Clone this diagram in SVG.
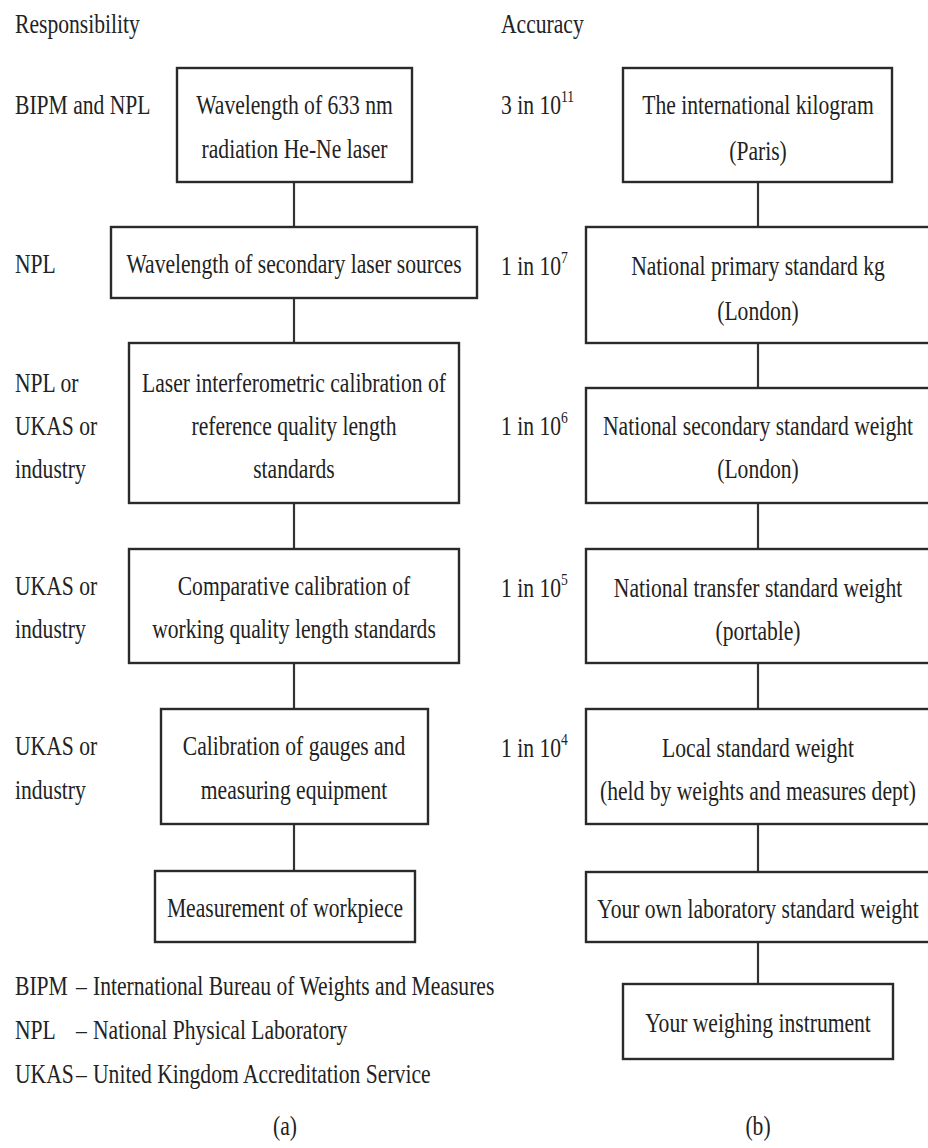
<svg xmlns="http://www.w3.org/2000/svg" width="928" height="1148" viewBox="0 0 928 1148">
  <style>
    .box { fill: #ffffff; stroke: #2a2a2a; stroke-width: 2.4; }
    .link { stroke: #333333; stroke-width: 2.2; fill: none; }
    text { font-family: "Liberation Serif", "Times New Roman", serif; font-size: 27px; fill: #222222; }
    .c { text-anchor: middle; }
    .sup { font-size: 17px; }
  </style>
  <rect width="928" height="1148" fill="#ffffff"/>

  <!-- connectors -->
  <g id="connectors">
    <line class="link" x1="294" y1="182" x2="294" y2="227"/>
    <line class="link" x1="294" y1="298" x2="294" y2="343"/>
    <line class="link" x1="294" y1="503" x2="294" y2="549"/>
    <line class="link" x1="294" y1="663" x2="294" y2="709"/>
    <line class="link" x1="294" y1="824" x2="294" y2="871"/>
    <line class="link" x1="758" y1="182" x2="758" y2="227"/>
    <line class="link" x1="758" y1="343" x2="758" y2="388"/>
    <line class="link" x1="758" y1="503" x2="758" y2="549"/>
    <line class="link" x1="758" y1="663" x2="758" y2="709"/>
    <line class="link" x1="758" y1="824" x2="758" y2="872"/>
    <line class="link" x1="758" y1="942" x2="758" y2="984"/>
  </g>

  <!-- (a) length chain -->
  <g id="heading-responsibility">
    <text transform="translate(15 33) scale(0.8 1)">Responsibility</text>
  </g>
  <g id="resp-1">
    <text transform="translate(15 114) scale(0.8 1)">BIPM and NPL</text>
  </g>
  <g id="resp-2">
    <text transform="translate(15 273) scale(0.8 1)">NPL</text>
  </g>
  <g id="resp-3">
    <text transform="translate(15 392) scale(0.8 1)">NPL or</text>
    <text transform="translate(15 435) scale(0.8 1)">UKAS or</text>
    <text transform="translate(15 478) scale(0.8 1)">industry</text>
  </g>
  <g id="resp-4">
    <text transform="translate(15 595) scale(0.8 1)">UKAS or</text>
    <text transform="translate(15 638) scale(0.8 1)">industry</text>
  </g>
  <g id="resp-5">
    <text transform="translate(15 755) scale(0.8 1)">UKAS or</text>
    <text transform="translate(15 799) scale(0.8 1)">industry</text>
  </g>

  <g id="len-laser">
    <rect class="box" x="177" y="68" width="235" height="114"/>
    <text class="c" transform="translate(294.5 114) scale(0.8 1)">Wavelength of 633 nm</text>
    <text class="c" transform="translate(294.5 158) scale(0.8 1)">radiation He-Ne laser</text>
  </g>
  <g id="len-secondary">
    <rect class="box" x="111" y="227" width="366" height="71"/>
    <text class="c" transform="translate(294 273) scale(0.8 1)">Wavelength of secondary laser sources</text>
  </g>
  <g id="len-interferometric">
    <rect class="box" x="129" y="343" width="330" height="160"/>
    <text class="c" transform="translate(294 392) scale(0.8 1)">Laser interferometric calibration of</text>
    <text class="c" transform="translate(294 435) scale(0.8 1)">reference quality length</text>
    <text class="c" transform="translate(294 478) scale(0.8 1)">standards</text>
  </g>
  <g id="len-comparative">
    <rect class="box" x="129" y="549" width="330" height="114"/>
    <text class="c" transform="translate(294 595) scale(0.8 1)">Comparative calibration of</text>
    <text class="c" transform="translate(294 638) scale(0.8 1)">working quality length standards</text>
  </g>
  <g id="len-gauges">
    <rect class="box" x="161" y="709" width="267" height="115"/>
    <text class="c" transform="translate(294 755) scale(0.8 1)">Calibration of gauges and</text>
    <text class="c" transform="translate(294 799) scale(0.8 1)">measuring equipment</text>
  </g>
  <g id="len-workpiece">
    <rect class="box" x="155" y="871" width="260" height="71"/>
    <text class="c" transform="translate(285 917) scale(0.8 1)">Measurement of workpiece</text>
  </g>

  <g id="legend">
    <text transform="translate(15 995) scale(0.8 1)">BIPM</text>
    <text transform="translate(76 995) scale(0.8 1)">–</text>
    <text transform="translate(93 995) scale(0.8 1)">International Bureau of Weights and Measures</text>
    <text transform="translate(15 1039) scale(0.8 1)">NPL</text>
    <text transform="translate(76 1039) scale(0.8 1)">–</text>
    <text transform="translate(93 1039) scale(0.8 1)">National Physical Laboratory</text>
    <text transform="translate(15 1083) scale(0.8 1)">UKAS</text>
    <text transform="translate(76 1083) scale(0.8 1)">–</text>
    <text transform="translate(93 1083) scale(0.8 1)">United Kingdom Accreditation Service</text>
  </g>
  <g id="caption-a">
    <text class="c" transform="translate(285 1135) scale(0.8 1)">(a)</text>
  </g>

  <!-- (b) mass chain -->
  <g id="heading-accuracy">
    <text transform="translate(501 33) scale(0.8 1)">Accuracy</text>
  </g>
  <g id="acc-1">
    <text transform="translate(501 114) scale(0.8 1)">3 in 10<tspan class="sup" dy="-12">11</tspan></text>
  </g>
  <g id="acc-2">
    <text transform="translate(501 275) scale(0.8 1)">1 in 10<tspan class="sup" dy="-12">7</tspan></text>
  </g>
  <g id="acc-3">
    <text transform="translate(501 435) scale(0.8 1)">1 in 10<tspan class="sup" dy="-12">6</tspan></text>
  </g>
  <g id="acc-4">
    <text transform="translate(501 597) scale(0.8 1)">1 in 10<tspan class="sup" dy="-12">5</tspan></text>
  </g>
  <g id="acc-5">
    <text transform="translate(501 757) scale(0.8 1)">1 in 10<tspan class="sup" dy="-12">4</tspan></text>
  </g>

  <g id="mass-international">
    <rect class="box" x="623" y="68" width="269" height="114"/>
    <text class="c" transform="translate(758 114) scale(0.8 1)">The international kilogram</text>
    <text class="c" transform="translate(758 160) scale(0.8 1)">(Paris)</text>
  </g>
  <g id="mass-primary">
    <rect class="box" x="586" y="227" width="360" height="116"/>
    <text class="c" transform="translate(758 275) scale(0.8 1)">National primary standard kg</text>
    <text class="c" transform="translate(758 320) scale(0.8 1)">(London)</text>
  </g>
  <g id="mass-secondary">
    <rect class="box" x="586" y="388" width="360" height="115"/>
    <text class="c" transform="translate(758 435) scale(0.8 1)">National secondary standard weight</text>
    <text class="c" transform="translate(758 478) scale(0.8 1)">(London)</text>
  </g>
  <g id="mass-transfer">
    <rect class="box" x="586" y="549" width="360" height="114"/>
    <text class="c" transform="translate(758 597) scale(0.8 1)">National transfer standard weight</text>
    <text class="c" transform="translate(758 640) scale(0.8 1)">(portable)</text>
  </g>
  <g id="mass-local">
    <rect class="box" x="586" y="709" width="360" height="115"/>
    <text class="c" transform="translate(758 757) scale(0.8 1)">Local standard weight</text>
    <text class="c" transform="translate(758 800) scale(0.8 1)">(held by weights and measures dept)</text>
  </g>
  <g id="mass-laboratory">
    <rect class="box" x="586" y="872" width="360" height="70"/>
    <text class="c" transform="translate(758 918) scale(0.8 1)">Your own laboratory standard weight</text>
  </g>
  <g id="mass-instrument">
    <rect class="box" x="623" y="984" width="270" height="75"/>
    <text class="c" transform="translate(758 1032) scale(0.8 1)">Your weighing instrument</text>
  </g>
  <g id="caption-b">
    <text class="c" transform="translate(758 1135) scale(0.8 1)">(b)</text>
  </g>
</svg>
